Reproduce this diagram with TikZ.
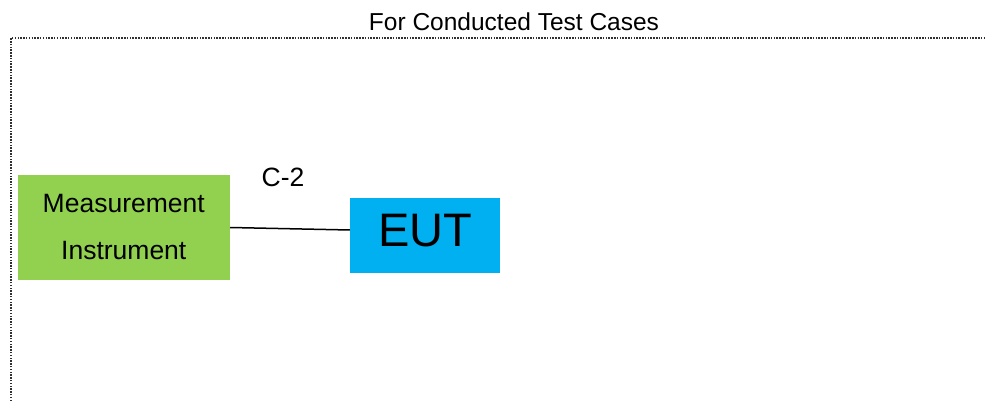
\documentclass[tikz,border=0pt]{standalone}
\usepackage{fontspec}
\setmainfont{Liberation Sans}
\definecolor{mgreen}{HTML}{92D050}
\definecolor{eutblue}{HTML}{00B0F0}
\definecolor{framegray}{HTML}{303030}
\begin{document}
\begin{tikzpicture}[x=1pt,y=-1pt,
  frame/.style={draw=framegray,line width=1.4pt,dash pattern=on 1.5pt off 1.3pt},
  instbox/.style={fill=mgreen,draw=none,inner sep=0pt,minimum width=212.5pt,minimum height=105pt,align=center,font=\fontsize{26.5}{47}\selectfont},
  eutbox/.style={fill=eutblue,draw=none,inner sep=0pt,minimum width=150pt,minimum height=74.4pt,text height=33.6pt,text depth=12.6pt,font=\fontsize{47}{50}\selectfont},
  lbl/.style={anchor=base,inner sep=0pt},
  wire/.style={draw=black,line width=1.5pt}]
\useasboundingbox (0,0) rectangle (986,401);
\coordinate (fb) at (11,401);
\coordinate (fc) at (11,38);
\coordinate (fr) at (985,38);
\draw[frame] (fb) -- (fc) -- (fr);
\node[lbl,font=\fontsize{24.5}{28}\selectfont] (title) at (514,31) {For Conducted Test Cases};
\node[instbox] (M) at (123.75,227.5) {Measurement\\Instrument};
\node[eutbox] (E) at (425,235.5) {EUT};
\node[lbl,font=\fontsize{26.5}{30}\selectfont] (c2) at (283,187) {C-2};
\draw[wire] (M.east) -- ([yshift=5.5pt]E.west);
\end{tikzpicture}
\end{document}
